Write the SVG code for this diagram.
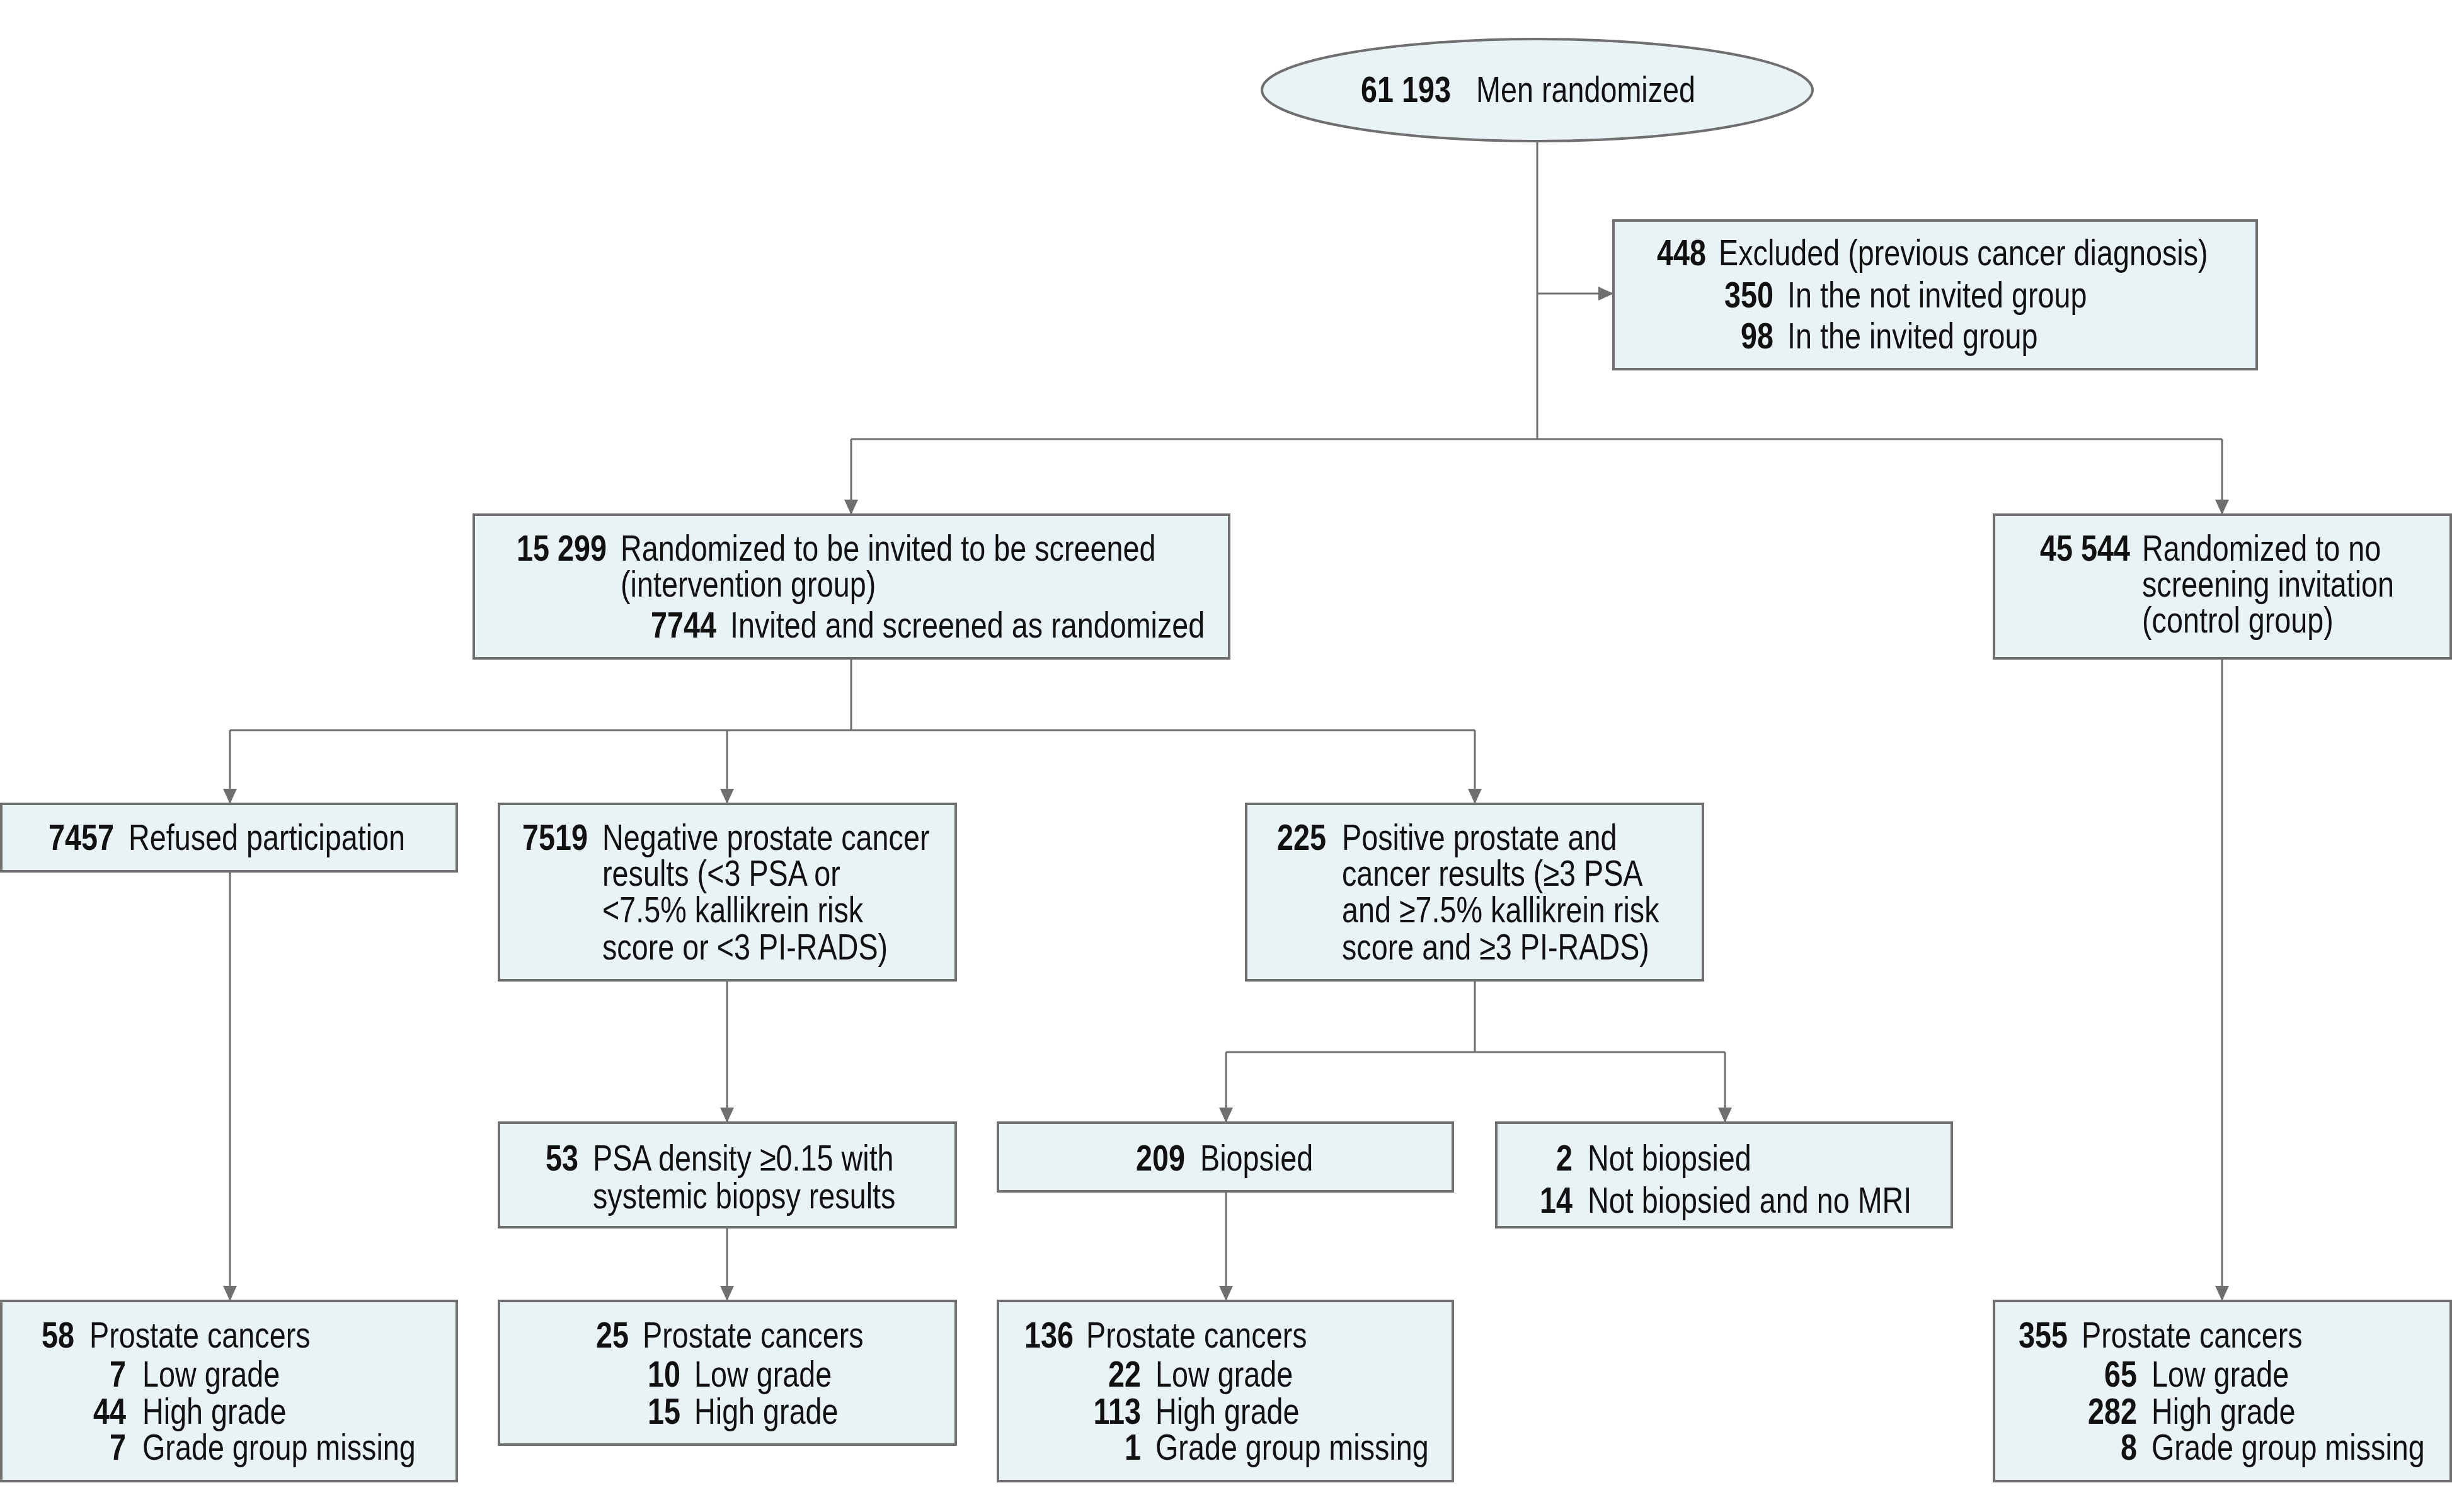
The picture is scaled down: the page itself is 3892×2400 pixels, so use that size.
<svg xmlns="http://www.w3.org/2000/svg" width="3892" height="2400" viewBox="0 0 3892 2400">
<defs>
<marker id="arr" markerUnits="userSpaceOnUse" markerWidth="24" markerHeight="30" viewBox="0 0 24 30" refX="24" refY="15" orient="auto">
<path d="M0,4 L24,15 L0,26 Z" fill="#6f6f70"/>
</marker>
<style>
.box{fill:#e9f3f5;stroke:#6f6f70;stroke-width:4}
.c{fill:none;stroke:#6f6f70;stroke-width:3}
.a{fill:none;stroke:#6f6f70;stroke-width:3;marker-end:url(#arr)}
text{font-family:"Liberation Sans",Arial,sans-serif;font-size:57px;fill:#111}
.n{font-weight:bold;text-anchor:end}
</style>
</defs>
<rect width="3892" height="2400" fill="#fff"/>
<g id="connectors">
<path class="c" d="M2440,223 V697"/>
<path class="a" d="M2440,466 H2561"/>
<path class="c" d="M1351,697 H3527"/>
<path class="a" d="M1351,697 V817"/>
<path class="a" d="M3527,697 V817"/>
<path class="c" d="M1351,1045 V1159"/>
<path class="c" d="M365,1159 H2341"/>
<path class="a" d="M365,1159 V1276"/>
<path class="a" d="M1154,1159 V1276"/>
<path class="a" d="M2341,1159 V1276"/>
<path class="a" d="M365,1383 V2065"/>
<path class="a" d="M1154,1556 V1782"/>
<path class="a" d="M1154,1948 V2065"/>
<path class="c" d="M2341,1556 V1670"/>
<path class="c" d="M1946,1670 H2738"/>
<path class="a" d="M1946,1670 V1782"/>
<path class="a" d="M2738,1670 V1782"/>
<path class="a" d="M1946,1891 V2065"/>
<path class="a" d="M3527,1045 V2065"/>
</g>
<g id="randomized">
<ellipse class="box" cx="2440" cy="143" rx="437" ry="81"/>
<text transform="translate(2303,162) scale(0.82,1)" class="n">61 193</text>
<text transform="translate(2343,162) scale(0.82,1)">Men randomized</text>
</g>
<g id="excluded">
<rect class="box" x="2561" y="350" width="1021" height="236"/>
<text transform="translate(2708,421) scale(0.82,1)" class="n">448</text><text transform="translate(2728,421) scale(0.82,1)">Excluded (previous cancer diagnosis)</text>
<text transform="translate(2815,488) scale(0.82,1)" class="n">350</text><text transform="translate(2837,488) scale(0.82,1)">In the not invited group</text>
<text transform="translate(2815,553) scale(0.82,1)" class="n">98</text><text transform="translate(2837,553) scale(0.82,1)">In the invited group</text>
</g>
<g id="intervention">
<rect class="box" x="752" y="817" width="1199" height="228"/>
<text transform="translate(963,890) scale(0.82,1)" class="n">15 299</text><text transform="translate(985,890) scale(0.82,1)">Randomized to be invited to be screened</text>
<text transform="translate(985,947) scale(0.82,1)">(intervention group)</text>
<text transform="translate(1137,1012) scale(0.82,1)" class="n">7744</text><text transform="translate(1159,1012) scale(0.82,1)">Invited and screened as randomized</text>
</g>
<g id="control">
<rect class="box" x="3165" y="817" width="725" height="228"/>
<text transform="translate(3381,890) scale(0.82,1)" class="n">45 544</text><text transform="translate(3400,890) scale(0.82,1)">Randomized to no</text>
<text transform="translate(3400,947) scale(0.82,1)">screening invitation</text>
<text transform="translate(3400,1004) scale(0.82,1)">(control group)</text>
</g>
<g id="refused">
<rect class="box" x="2" y="1276" width="723" height="107"/>
<text transform="translate(181,1349) scale(0.82,1)" class="n">7457</text><text transform="translate(204,1349) scale(0.82,1)">Refused participation</text>
</g>
<g id="negative">
<rect class="box" x="792" y="1276" width="725" height="280"/>
<text transform="translate(933,1349) scale(0.82,1)" class="n">7519</text><text transform="translate(956,1349) scale(0.82,1)">Negative prostate cancer</text>
<text transform="translate(956,1406) scale(0.82,1)">results (&lt;3 PSA or</text>
<text transform="translate(956,1464) scale(0.82,1)">&lt;7.5% kallikrein risk</text>
<text transform="translate(956,1523) scale(0.82,1)">score or &lt;3 PI-RADS)</text>
</g>
<g id="positive">
<rect class="box" x="1978" y="1276" width="725" height="280"/>
<text transform="translate(2105,1349) scale(0.82,1)" class="n">225</text><text transform="translate(2130,1349) scale(0.82,1)">Positive prostate and</text>
<text transform="translate(2130,1406) scale(0.82,1)">cancer results (≥3 PSA</text>
<text transform="translate(2130,1464) scale(0.82,1)">and ≥7.5% kallikrein risk</text>
<text transform="translate(2130,1523) scale(0.82,1)">score and ≥3 PI-RADS)</text>
</g>
<g id="psadensity">
<rect class="box" x="792" y="1782" width="725" height="166"/>
<text transform="translate(918,1858) scale(0.82,1)" class="n">53</text><text transform="translate(941,1858) scale(0.82,1)">PSA density ≥0.15 with</text>
<text transform="translate(941,1918) scale(0.82,1)">systemic biopsy results</text>
</g>
<g id="biopsied">
<rect class="box" x="1584" y="1782" width="722" height="109"/>
<text transform="translate(1881,1858) scale(0.82,1)" class="n">209</text><text transform="translate(1905,1858) scale(0.82,1)">Biopsied</text>
</g>
<g id="notbiopsied">
<rect class="box" x="2375" y="1782" width="723" height="166"/>
<text transform="translate(2496,1858) scale(0.82,1)" class="n">2</text><text transform="translate(2520,1858) scale(0.82,1)">Not biopsied</text>
<text transform="translate(2496,1925) scale(0.82,1)" class="n">14</text><text transform="translate(2520,1925) scale(0.82,1)">Not biopsied and no MRI</text>
</g>
<g id="cancers-refused">
<rect class="box" x="2" y="2065" width="723" height="286"/>
<text transform="translate(118,2139) scale(0.82,1)" class="n">58</text><text transform="translate(142,2139) scale(0.82,1)">Prostate cancers</text>
<text transform="translate(200,2201) scale(0.82,1)" class="n">7</text><text transform="translate(226,2201) scale(0.82,1)">Low grade</text>
<text transform="translate(200,2260) scale(0.82,1)" class="n">44</text><text transform="translate(226,2260) scale(0.82,1)">High grade</text>
<text transform="translate(200,2317) scale(0.82,1)" class="n">7</text><text transform="translate(226,2317) scale(0.82,1)">Grade group missing</text>
</g>
<g id="cancers-density">
<rect class="box" x="792" y="2065" width="725" height="228"/>
<text transform="translate(998,2139) scale(0.82,1)" class="n">25</text><text transform="translate(1020,2139) scale(0.82,1)">Prostate cancers</text>
<text transform="translate(1080,2201) scale(0.82,1)" class="n">10</text><text transform="translate(1102,2201) scale(0.82,1)">Low grade</text>
<text transform="translate(1080,2260) scale(0.82,1)" class="n">15</text><text transform="translate(1102,2260) scale(0.82,1)">High grade</text>
</g>
<g id="cancers-biopsied">
<rect class="box" x="1584" y="2065" width="722" height="286"/>
<text transform="translate(1704,2139) scale(0.82,1)" class="n">136</text><text transform="translate(1724,2139) scale(0.82,1)">Prostate cancers</text>
<text transform="translate(1811,2201) scale(0.82,1)" class="n">22</text><text transform="translate(1834,2201) scale(0.82,1)">Low grade</text>
<text transform="translate(1811,2260) scale(0.82,1)" class="n">113</text><text transform="translate(1834,2260) scale(0.82,1)">High grade</text>
<text transform="translate(1811,2317) scale(0.82,1)" class="n">1</text><text transform="translate(1834,2317) scale(0.82,1)">Grade group missing</text>
</g>
<g id="cancers-control">
<rect class="box" x="3165" y="2065" width="725" height="286"/>
<text transform="translate(3282,2139) scale(0.82,1)" class="n">355</text><text transform="translate(3304,2139) scale(0.82,1)">Prostate cancers</text>
<text transform="translate(3392,2201) scale(0.82,1)" class="n">65</text><text transform="translate(3415,2201) scale(0.82,1)">Low grade</text>
<text transform="translate(3392,2260) scale(0.82,1)" class="n">282</text><text transform="translate(3415,2260) scale(0.82,1)">High grade</text>
<text transform="translate(3392,2317) scale(0.82,1)" class="n">8</text><text transform="translate(3415,2317) scale(0.82,1)">Grade group missing</text>
</g>
</svg>
